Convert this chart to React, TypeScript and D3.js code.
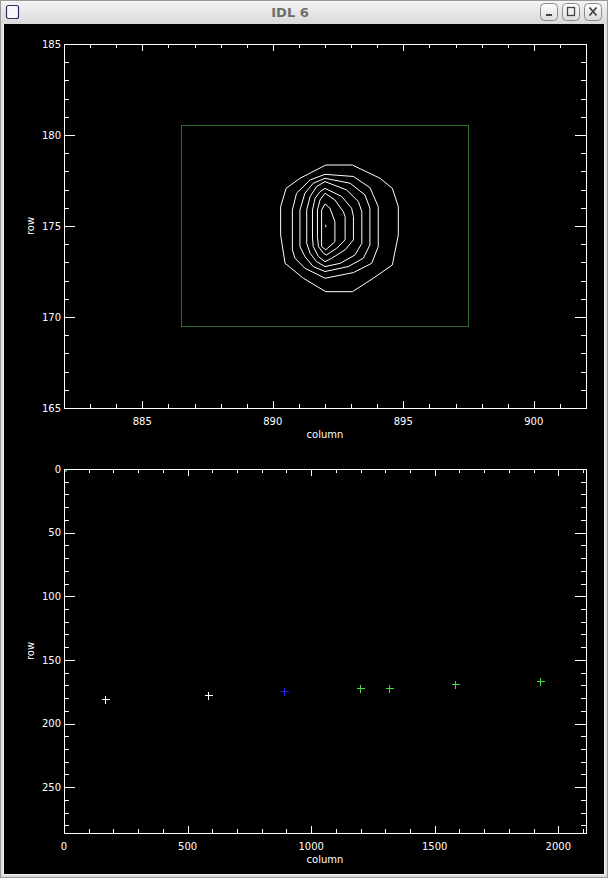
import React from "react";
import * as d3 from "d3";

// ---------- data ----------
// top panel: contour levels around the star (column,row)
const contour1: [number, number][] = [[892.03,178.35],[893.05,178.35],[894.11,177.62],[894.58,177.07],[894.81,176.06],[894.81,174.51],[894.58,172.86],[893.85,172.13],[893.05,171.39],[892.03,171.39],[891.17,172.13],[890.47,172.95],[890.30,174.51],[890.30,176.06],[890.51,177.07],[891.04,177.62]];
const contour2: [number, number][] = [[892.00,177.84],[893.09,177.72],[893.72,177.11],[894.04,176.07],[894.04,173.87],[893.79,172.95],[893.09,172.44],[892.00,172.13],[891.23,172.68],[890.85,173.23],[890.75,173.69],[890.75,175.88],[890.91,176.80],[891.43,177.53]];
const contour3: [number, number][] = [[892.00,177.62],[892.96,177.35],[893.53,176.71],[893.72,175.98],[893.72,173.96],[893.47,173.23],[892.89,172.77],[892.00,172.50],[891.55,172.77],[891.23,173.32],[891.04,173.87],[891.04,175.88],[891.23,176.80],[891.55,177.35]];
const contour4: [number, number][] = [[892.00,177.44],[892.83,176.98],[893.28,176.34],[893.41,175.79],[893.41,174.05],[893.15,173.41],[892.58,172.95],[892.00,172.77],[891.68,173.04],[891.43,173.50],[891.30,174.05],[891.30,175.88],[891.43,176.62],[891.68,177.17]];
const contour5: [number, number][] = [[892.00,177.07],[892.64,176.62],[893.02,175.98],[893.09,175.52],[893.09,174.24],[892.77,173.69],[892.26,173.23],[892.00,173.04],[891.75,173.32],[891.55,173.87],[891.52,174.33],[891.52,175.88],[891.62,176.52],[891.81,176.89]];
const contour6: [number, number][] = [[892.00,176.80],[892.38,176.43],[892.70,175.79],[892.77,175.52],[892.77,174.24],[892.45,173.78],[892.06,173.41],[891.94,173.50],[891.75,173.87],[891.71,174.42],[891.71,175.88],[891.81,176.43]];
const contour7: [number, number][] = [[892.00,176.21],[892.19,175.98],[892.38,175.24],[892.38,174.14],[892.03,173.69],[891.87,173.87],[891.87,175.88]];
const contour8: [number, number][] = [[892.03,175.07],[892.03,174.93]];
const contours = [contour1, contour2, contour3, contour4, contour5, contour6, contour7, contour8];

// search box (column range, row range)
const boxCols = [886.5, 897.5];
const boxRows = [169.5, 180.5];

// top panel axes
const topXDomain = [882, 902];
const topYDomain = [165, 185];
const topXTicks = [885, 890, 895, 900];
const topYTicks = [165, 170, 175, 180, 185];

// bottom panel: star positions
const ptCols = [167, 584, 891, 1198, 1316, 1583, 1927];
const ptRows = [180.6, 177.3, 174.1, 172.0, 172.0, 168.9, 166.3];
const ptKind = ["white", "white", "blue", "green", "green", "green", "green"];
const cornerMark = [0, 0];

const botXDomain = [0, 2112];
const botYDomain = [0, 286];
const botXTicks = [0, 500, 1000, 1500, 2000];
const botYTicks = [0, 50, 100, 150, 200, 250];

// ---------- layout ----------
const W = 608, H = 878;
const PL = 64, PR = 586;
const TOP = { y0: 44, y1: 408 };
const BOT = { y0: 469, y1: 833 };
const FONT = "DejaVu Sans, Verdana, sans-serif";

const colors: Record<string, string> = { white: "#ffffff", blue: "#2222e8", green: "#3fdc3f" };

function Frame({ x, y, xMinorStep, yMinorStep, xTicks, yTicks, yMid }: any) {
  const [xa, xb] = x.range();
  const [yb, ya] = y.range().slice().sort((a: number, b: number) => b - a);
  const top = Math.min(...y.range());
  const bottom = Math.max(...y.range());
  const xd = x.domain();
  const yd = y.domain().slice().sort((a: number, b: number) => a - b);
  const xMinor = d3.range(Math.ceil(xd[0] / xMinorStep) * xMinorStep, xd[1] + 1e-9, xMinorStep);
  const yMinor = d3.range(Math.ceil(yd[0] / yMinorStep) * yMinorStep, yd[1] + 1e-9, yMinorStep);
  const isMajor = (v: number, arr: number[]) => arr.some((t) => Math.abs(t - v) < 1e-6);
  const st = { stroke: "#fff", strokeWidth: 1, shapeRendering: "crispEdges" as const };
  return (
    <g>
      <rect x={xa + 0.5} y={top + 0.5} width={xb - xa} height={bottom - top} fill="none" {...st} />
      {xMinor.map((v, i) => {
        const len = isMajor(v, xTicks) ? 7 : 4;
        const px = Math.round(x(v)) + 0.5;
        return (
          <g key={"xt" + i}>
            <line x1={px} x2={px} y1={bottom} y2={bottom - len} {...st} />
            <line x1={px} x2={px} y1={top} y2={top + len} {...st} />
          </g>
        );
      })}
      {yMinor.map((v, i) => {
        const len = isMajor(v, yTicks) ? 11 : 5;
        const py = Math.round(y(v)) + 0.5;
        return (
          <g key={"yt" + i}>
            <line x1={xa} x2={xa + len} y1={py} y2={py} {...st} />
            <line x1={xb} x2={xb - len} y1={py} y2={py} {...st} />
          </g>
        );
      })}
      {xTicks.map((v: number) => (
        <text key={"xl" + v} x={x(v)} y={bottom + 17} fill="#fff" fontSize={10} fontFamily={FONT} textAnchor="middle">{v}</text>
      ))}
      {yTicks.map((v: number) => (
        <text key={"yl" + v} x={xa - 3} y={y(v) + 3.6} fill="#fff" fontSize={10} fontFamily={FONT} textAnchor="end">{v}</text>
      ))}
      <text x={(xa + xb) / 2} y={bottom + 30} fill="#fff" fontSize={10} fontFamily={FONT} textAnchor="middle">column</text>
      <text transform={`translate(34,${yMid}) rotate(-90)`} fill="#fff" fontSize={10} fontFamily={FONT} textAnchor="middle">row</text>
    </g>
  );
}

export default function App() {
  const xT = d3.scaleLinear().domain(topXDomain).range([PL, PR]);
  const yT = d3.scaleLinear().domain(topYDomain).range([TOP.y1, TOP.y0]);
  const xB = d3.scaleLinear().domain(botXDomain).range([PL, PR]);
  const yB = d3.scaleLinear().domain(botYDomain).range([BOT.y0, BOT.y1]);
  const line = d3.line<[number, number]>().x((d) => xT(d[0])).y((d) => yT(d[1]));
  const closed = d3.line<[number, number]>().x((d) => xT(d[0])).y((d) => yT(d[1])).curve(d3.curveLinearClosed);

  return (
    <div style={{ position: "absolute", left: 0, top: 0 }}>
      <svg width={W} height={H} style={{ display: "block" }}>
        <defs>
          <linearGradient id="tb" x1="0" y1="0" x2="0" y2="1">
            <stop offset="0" stopColor="#f4f4f4" />
            <stop offset="1" stopColor="#d9d9d9" />
          </linearGradient>
          <linearGradient id="btn" x1="0" y1="0" x2="0" y2="1">
            <stop offset="0" stopColor="#ffffff" />
            <stop offset="1" stopColor="#dcdcdc" />
          </linearGradient>
        </defs>
        {/* window chrome */}
        <rect x={0} y={0} width={W} height={H} fill="#dedede" />
        <rect x={0.5} y={0.5} width={W - 1} height={H - 1} fill="none" stroke="#9a9a9a" />
        <rect x={1} y={1} width={W - 2} height={23} fill="url(#tb)" />
        <rect x={3} y={24} width={W - 6} height={851} fill="#f2f2f2" />
        <rect x={4} y={24} width={W - 8} height={850} fill="#000" />
        <text x={290} y={17} fontSize={13} fontWeight="bold" fill="#6e6e6e" fontFamily={FONT} textAnchor="middle">IDL 6</text>
        <rect x={6.5} y={5.5} width={12} height={13} rx={2} fill="#f8f8f8" stroke="#2a2f6a" strokeWidth={1.2} />
        {[540, 562, 584].map((bx, i) => (
          <g key={"b" + i}>
            <rect x={bx + 0.5} y={3.5} width={17} height={17} rx={4} fill="url(#btn)" stroke="#8a8a8a" />
            {i === 0 && <rect x={bx + 6} y={14} width={6} height={2} fill="#444" />}
            {i === 1 && <rect x={bx + 5.5} y={7.5} width={7} height={8} fill="none" stroke="#444" strokeWidth={1.3} />}
            {i === 2 && (
              <path d={`M${bx + 5.5},${7.5} L${bx + 12.5},${15.5} M${bx + 12.5},${7.5} L${bx + 5.5},${15.5}`} stroke="#444" strokeWidth={1.8} />
            )}
          </g>
        ))}

        {/* top panel */}
        <rect
          x={xT(boxCols[0])} y={yT(boxRows[1])}
          width={xT(boxCols[1]) - xT(boxCols[0])} height={yT(boxRows[0]) - yT(boxRows[1])}
          fill="none" stroke="#2f6a2f" strokeWidth={1} shapeRendering="crispEdges"
        />
        {contours.map((c, i) => (
          <path key={"c" + i} d={(i === contours.length - 1 ? line(c) : closed(c)) || ""} fill="none" stroke="#fff" strokeWidth={1} />
        ))}
        <Frame x={xT} y={yT} xMinorStep={1} yMinorStep={1} xTicks={topXTicks} yTicks={topYTicks} yMid={(TOP.y0 + TOP.y1) / 2} />

        {/* bottom panel */}
        <rect x={xB(cornerMark[0])} y={yB(cornerMark[1])} width={3} height={3} fill="#2e8a2e" />
        {ptCols.map((c, i) => {
          const px = Math.round(xB(c)) + 0.5;
          const py = Math.round(yB(ptRows[i])) + 0.5;
          const s = 4;
          return (
            <path key={"p" + i} d={`M${px - s},${py}H${px + s}M${px},${py - s}V${py + s}`} stroke={colors[ptKind[i]]} strokeWidth={1} shapeRendering="crispEdges" />
          );
        })}
        <Frame x={xB} y={yB} xMinorStep={100} yMinorStep={10} xTicks={botXTicks} yTicks={botYTicks} yMid={(BOT.y0 + BOT.y1) / 2} />
      </svg>
    </div>
  );
}
